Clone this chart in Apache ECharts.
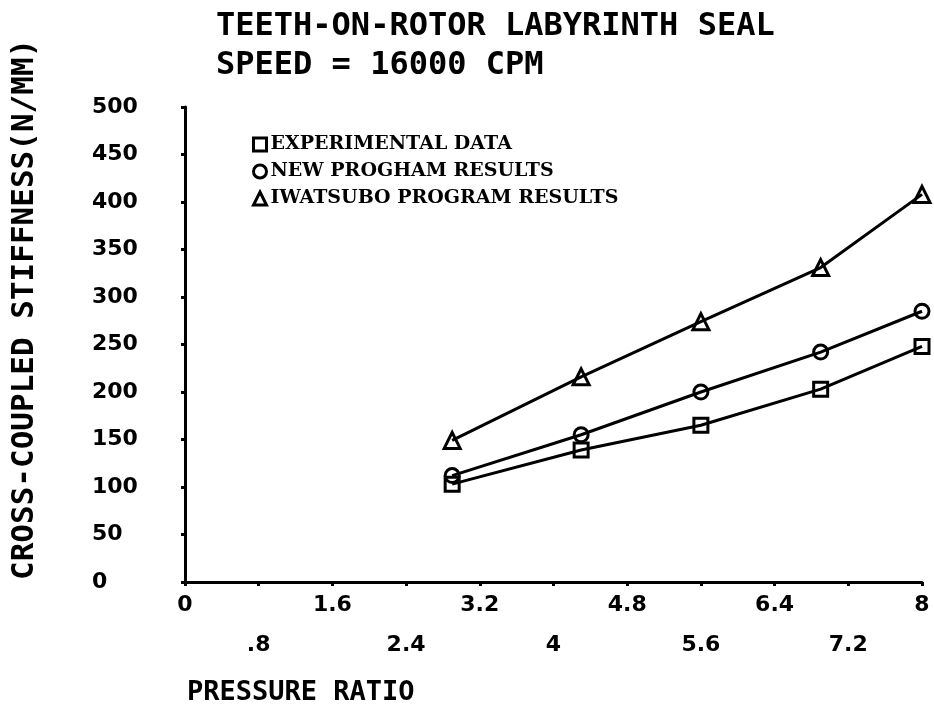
<!DOCTYPE html>
<html>
<head>
<meta charset="utf-8">
<title>Teeth-on-rotor labyrinth seal</title>
<script src="https://cdn.jsdelivr.net/npm/echarts@6/dist/echarts.min.js"></script>
<style>
  html, body { margin: 0; padding: 0; background: #fff; }
  #chart { width: 934px; height: 705px; }
</style>
</head>
<body>
<div id="chart"></div>
<script>
// Pressure ratio at which each seal case was run
const pressureRatio = [2.9, 4.3, 5.6, 6.9, 8.0];

// Cross-coupled stiffness, N/mm
const experimentalData = [103, 139, 165, 203, 248];
const newProgramResults = [112, 155, 200, 242, 285];
const iwatsuboResults = [149, 216, 274, 331, 408];

// Axis tick labels
const xTickLabels = ['0', '.8', '1.6', '2.4', '3.2', '4', '4.8', '5.6', '6.4', '7.2', '8'];
const yTickLabels = ['0', '50', '100', '150', '200', '250', '300', '350', '400', '450', '500'];

const seriesNames = ['EXPERIMENTAL DATA', 'NEW PROGHAM RESULTS', 'IWATSUBO PROGRAM RESULTS'];
const seriesValues = [experimentalData, newProgramResults, iwatsuboResults];
const seriesSymbols = ['rect', 'circle', 'triangle'];

const INK = '#000';
const MONO = '"DejaVu Sans Mono", monospace';
const SANS = '"DejaVu Sans", sans-serif';

const chart = echarts.init(document.getElementById('chart'), null, { renderer: 'canvas' });

const series = seriesNames.map((name, i) => ({
  name: name,
  type: 'line',
  data: pressureRatio.map((p, j) => [p, seriesValues[i][j]]),
  symbol: seriesSymbols[i],
  symbolSize: i === 2 ? 16 : 14,
  showSymbol: true,
  lineStyle: { color: INK, width: 3 },
  itemStyle: { color: 'rgba(255,255,255,0)', borderColor: INK, borderWidth: 3 },
  emphasis: { disabled: true },
  z: 3 + i
}));

chart.setOption({
  backgroundColor: '#fff',
  animation: false,
  title: [
    {
      text: 'TEETH-ON-ROTOR LABYRINTH SEAL\nSPEED = 16000 CPM',
      left: 211,
      top: 2,
      textStyle: { fontFamily: MONO, fontSize: 32, fontWeight: 'bold', color: INK, lineHeight: 39 }
    },
    {
      text: 'PRESSURE RATIO',
      left: 182,
      top: 674,
      textStyle: { fontFamily: MONO, fontSize: 27, fontWeight: 'bold', color: INK }
    }
  ],
  legend: {
    orient: 'vertical',
    left: 247,
    top: 130,
    itemWidth: 13,
    itemHeight: 13,
    itemGap: 8,
    selectedMode: false,
    data: seriesNames.map((n, i) => ({ name: n, icon: seriesSymbols[i] })),
    itemStyle: { color: 'rgba(255,255,255,0)', borderColor: INK, borderWidth: 3 },
    lineStyle: { width: 0 },
    textStyle: { fontFamily: '"DejaVu Serif", serif', fontWeight: 'bold', fontSize: 19, color: INK, padding: [0, 0, 0, -1] }
  },
  grid: { left: 185, right: 12, top: 107, bottom: 123, containLabel: false },
  xAxis: {
    type: 'value',
    min: 0,
    max: 8,
    interval: 0.8,
    splitLine: { show: false },
    axisLine: { show: true, onZero: false, lineStyle: { color: INK, width: 3 } },
    axisTick: { show: true, length: 4, lineStyle: { color: INK, width: 3 } },
    axisLabel: {
      margin: 12,
      fontFamily: SANS,
      fontWeight: 'bold',
      fontSize: 22,
      color: INK,
      formatter: function (v) {
        const k = Math.round(v / 0.8);
        const s = xTickLabels[k];
        return k % 2 === 0 ? '{a|' + s + '}' : '{b|' + s + '}';
      },
      rich: {
        a: { fontFamily: SANS, fontWeight: 'bold', fontSize: 22, color: INK },
        b: { fontFamily: SANS, fontWeight: 'bold', fontSize: 22, color: INK, padding: [40, 0, 0, 0] }
      }
    }
  },
  yAxis: {
    type: 'value',
    min: 0,
    max: 500,
    interval: 50,
    splitLine: { show: false },
    axisLine: { show: true, onZero: false, lineStyle: { color: INK, width: 3 } },
    axisTick: { show: true, length: 4, lineStyle: { color: INK, width: 3 } },
    axisLabel: {
      margin: 93,
      align: 'left',
      padding: [0, 0, 10, 0],
      fontFamily: SANS,
      fontWeight: 'bold',
      fontSize: 22,
      color: INK,
      formatter: function (v) {
        return yTickLabels[Math.round(v / 50)];
      }
    }
  },
  graphic: [
    {
      type: 'text',
      x: 25,
      y: 580,
      rotation: Math.PI / 2,
      style: {
        text: 'CROSS-COUPLED STIFFNESS(N/MM)',
        font: 'bold 31px "DejaVu Sans Mono", monospace',
        fill: INK,
        align: 'left',
        verticalAlign: 'middle'
      }
    }
  ],
  series: series
});
</script>
</body>
</html>
